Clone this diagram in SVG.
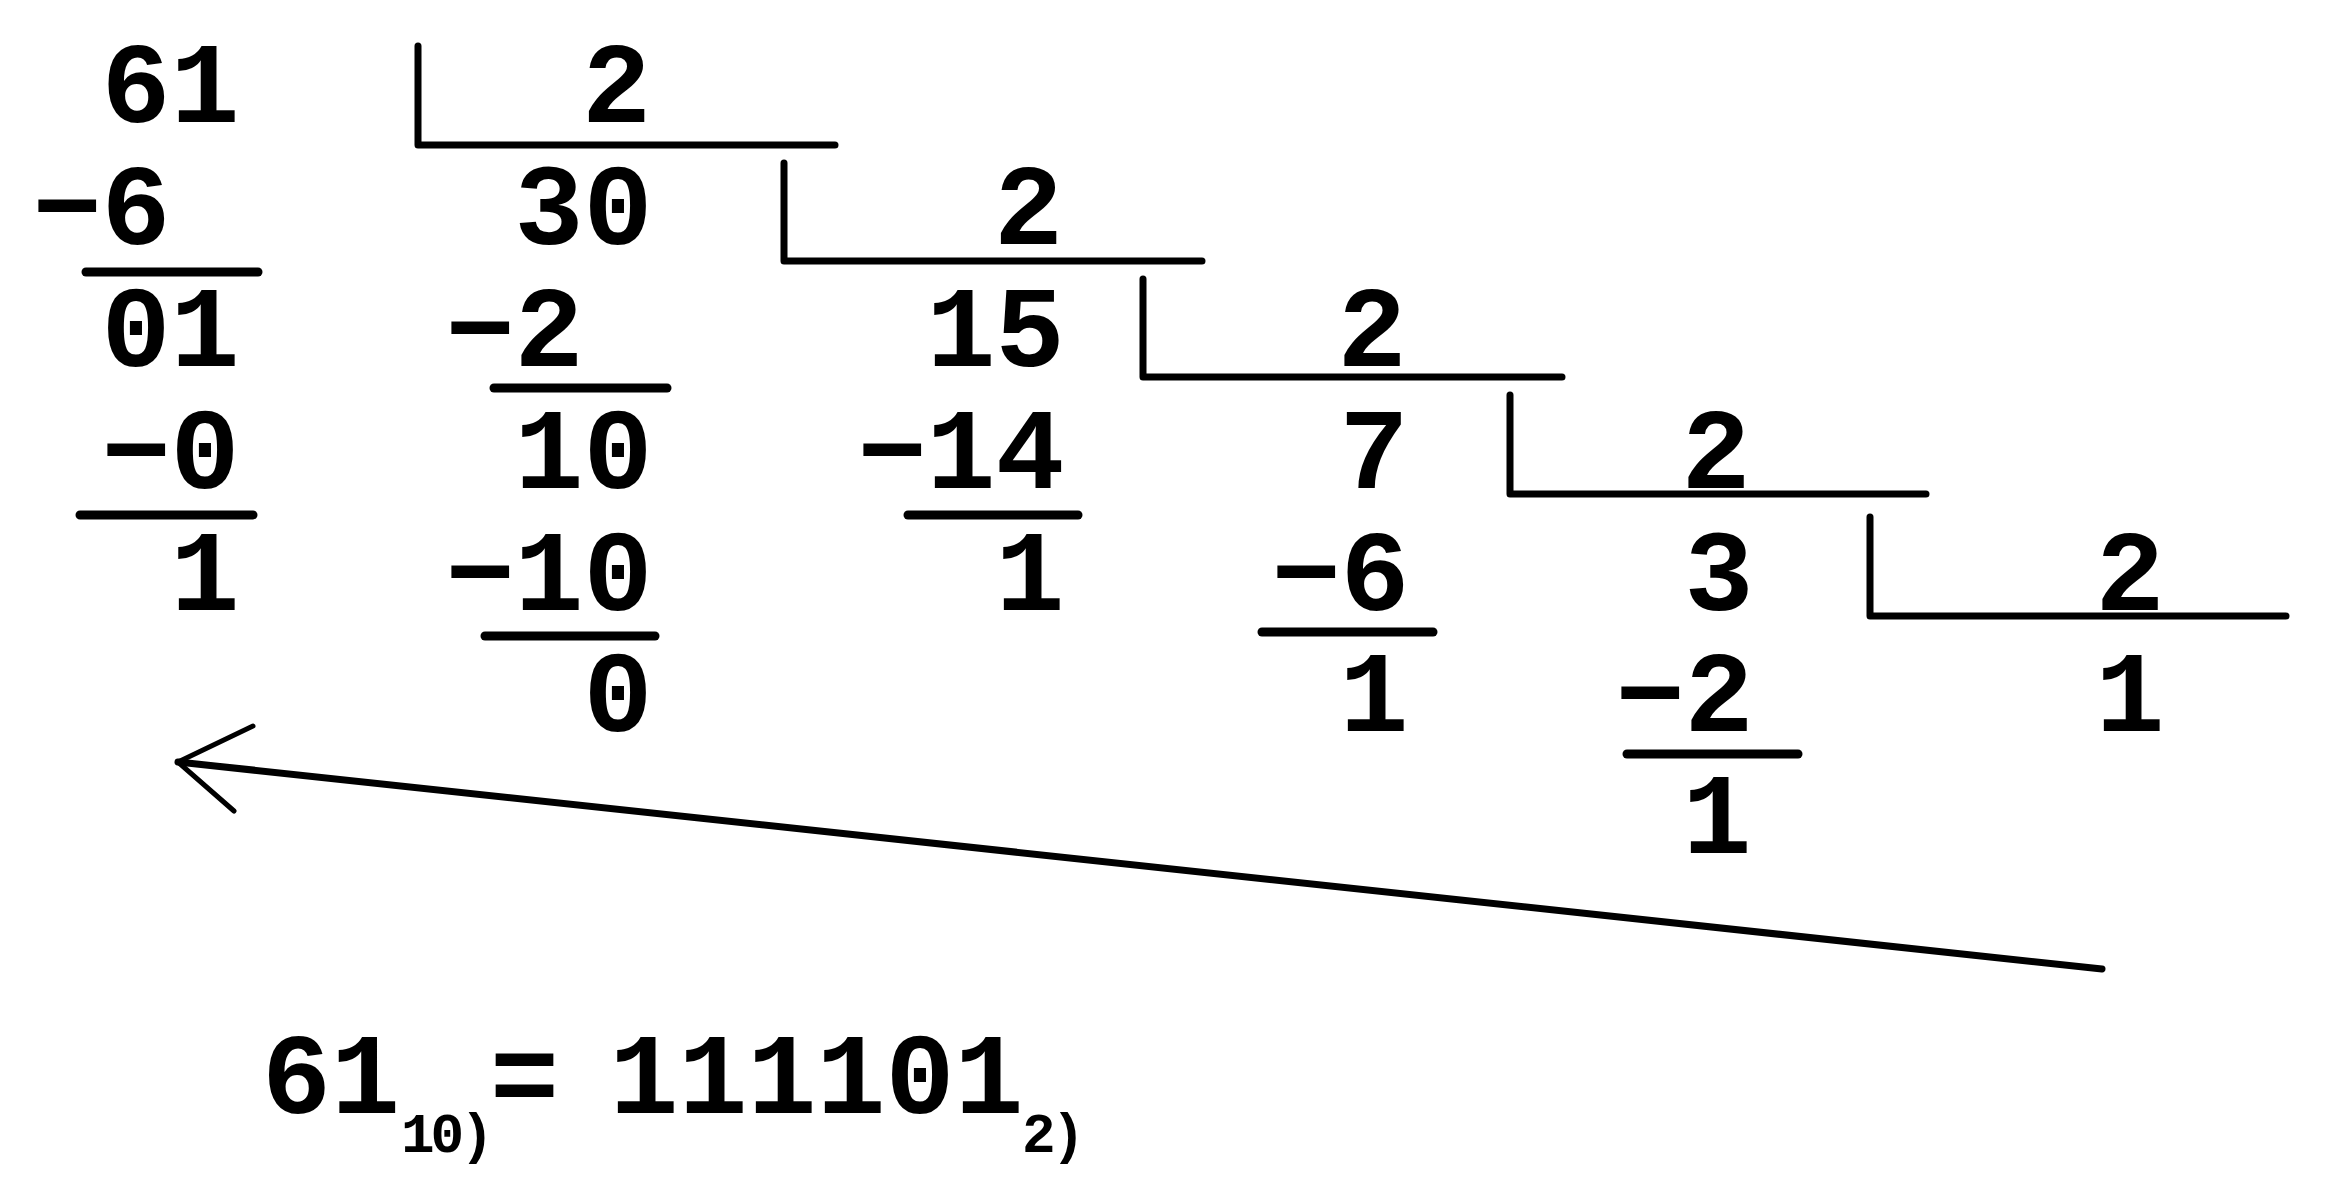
<svg xmlns="http://www.w3.org/2000/svg" width="2325" height="1181" viewBox="0 0 2325 1181">
<style>
  text { font-family: "Liberation Mono", "Courier New", monospace; font-weight: bold; font-size: 115px; fill: #000; }
  .sub { font-size: 56px; letter-spacing: -4px; }
  .br { fill: none; stroke: #000; stroke-width: 7; stroke-linecap: round; stroke-linejoin: round; }
  .ul { stroke: #000; stroke-width: 9; stroke-linecap: round; }
  .arr { fill: none; stroke: #000; stroke-width: 7; stroke-linecap: round; stroke-linejoin: round; }
  .barb { fill: none; stroke: #000; stroke-width: 5; stroke-linecap: round; stroke-linejoin: round; }
</style>
<rect width="2325" height="1181" fill="#fff"/>

<g id="step1">
  <text x="101.5" y="122">61</text>
  <polyline class="br" points="418,46 418,145 835,145"/>
  <text x="582" y="122">2</text>
  <text x="32.5" y="244">−6</text>
  <line class="ul" x1="86" y1="272" x2="258" y2="272"/>
  <text x="101.5" y="366">01</text>
  <text x="101.5" y="488">−0</text>
  <line class="ul" x1="80" y1="515" x2="253" y2="515"/>
  <text x="170.5" y="610">1</text>
</g>

<g id="step2">
  <text x="514.5" y="244">30</text>
  <polyline class="br" points="784,163 784,261 1202,261"/>
  <text x="994" y="244">2</text>
  <text x="445.5" y="366">−2</text>
  <line class="ul" x1="494" y1="388" x2="667" y2="388"/>
  <text x="514.5" y="488">10</text>
  <text x="445.5" y="610">−10</text>
  <line class="ul" x1="485" y1="636" x2="655" y2="636"/>
  <text x="583.5" y="731">0</text>
</g>

<g id="step3">
  <text x="926.5" y="366">15</text>
  <polyline class="br" points="1143,279 1143,377 1562,377"/>
  <text x="1337.5" y="366">2</text>
  <text x="857.5" y="488">−14</text>
  <line class="ul" x1="908" y1="515" x2="1078" y2="515"/>
  <text x="995.5" y="610">1</text>
</g>

<g id="step4">
  <text x="1339.5" y="488">7</text>
  <polyline class="br" points="1510,395 1510,494 1926,494"/>
  <text x="1681.5" y="488">2</text>
  <text x="1271.5" y="610">−6</text>
  <line class="ul" x1="1262" y1="632" x2="1433" y2="632"/>
  <text x="1339.5" y="731">1</text>
</g>

<g id="step5">
  <text x="1684.5" y="610">3</text>
  <polyline class="br" points="1870,517 1870,616 2286,616"/>
  <text x="2095.5" y="610">2</text>
  <text x="1615.5" y="731">−2</text>
  <line class="ul" x1="1627" y1="754" x2="1798" y2="754"/>
  <text x="1682.5" y="853">1</text>
</g>

<g id="step6">
  <text x="2095.5" y="731">1</text>
</g>

<g id="connectors">
  <line class="arr" x1="2102" y1="969" x2="178" y2="762"/>
  <polyline class="barb" points="253,726 178,762 234,811"/>
</g>

<g id="result">
  <text x="262" y="1113">61<tspan class="sub" x="401" y="1152">10)</tspan><tspan x="490" y="1113">=</tspan><tspan x="609.5" y="1113">111101</tspan><tspan class="sub" x="1022" y="1152">2)</tspan></text>
</g>
</svg>
